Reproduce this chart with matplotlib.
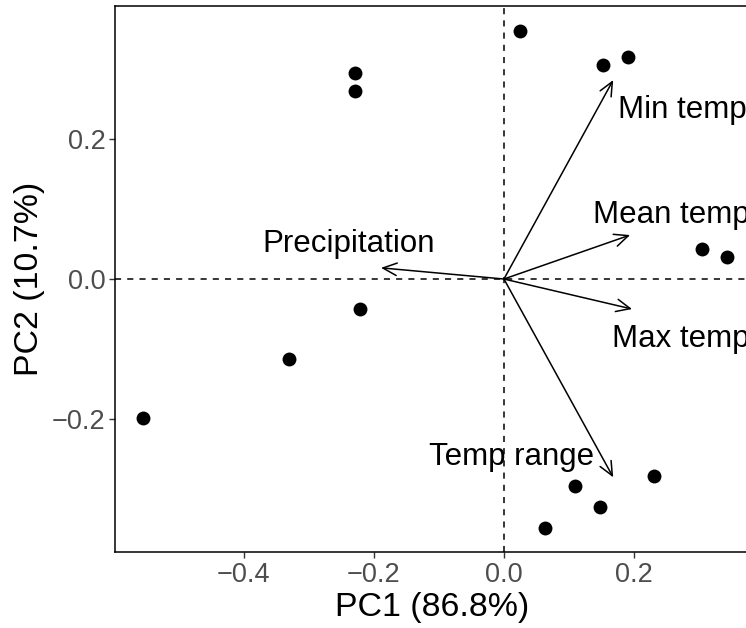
import numpy as np
import matplotlib
matplotlib.use('Agg')
from matplotlib import pyplot as plt

plt.rcParams['font.family'] = ['Liberation Sans', 'DejaVu Sans']

# PCA scores (PC1, PC2)
pc1 = [0.025, 0.152, 0.191, 0.304, 0.343, 0.231, 0.110, 0.148, 0.063,
       -0.555, -0.229, -0.229, -0.222, -0.331]
pc2 = [0.355, 0.306, 0.318, 0.043, 0.031, -0.282, -0.297, -0.326, -0.356,
       -0.199, 0.295, 0.270, -0.043, -0.115]

# loadings (arrow tips)
var_names = ['Min temp', 'Mean temp', 'Max temp', 'Temp range', 'Precipitation']
load_x = [0.168, 0.194, 0.197, 0.168, -0.189]
load_y = [0.285, 0.063, -0.043, -0.284, 0.016]
# label positions (left, baseline)
lab_x = [0.176, 0.1365, 0.1657, -0.115, -0.371]
lab_y = [0.2304, 0.0799, -0.097, -0.2667, 0.0387]

fig = plt.figure(figsize=(7.46, 6.28), dpi=100)
# panel runs slightly past the right edge of the image (cropped like the original)
ax = fig.add_axes([0.1542, 0.121, 0.85, 0.8694])

ax.axhline(0, color='black', lw=1.1, ls=(0, (4, 4)), zorder=1)
ax.axvline(0, color='black', lw=1.1, ls=(0, (4, 4)), zorder=1)

ax.scatter(pc1, pc2, s=100, color='black', zorder=3, linewidths=0)

for i in range(len(var_names)):
    ax.annotate('', xy=(load_x[i], load_y[i]), xytext=(0, 0),
                arrowprops=dict(arrowstyle='->,head_length=1.0,head_width=0.45',
                                color='black', lw=1.1, shrinkA=0, shrinkB=0),
                zorder=2)
    ax.text(lab_x[i], lab_y[i], var_names[i], fontsize=22.5, color='black',
            ha='left', va='baseline', zorder=4)

ax.set_xlim(-0.598, 0.377)
ax.set_ylim(-0.391, 0.391)
ax.set_xticks([-0.4, -0.2, 0.0, 0.2])
ax.set_xticklabels(['\u22120.4', '\u22120.2', '0.0', '0.2'])
ax.set_yticks([-0.2, 0.0, 0.2])
ax.set_yticklabels(['\u22120.2', '0.0', '0.2'])
ax.tick_params(labelsize=19.5, colors='#4D4D4D', length=4, width=1, pad=3)
ax.tick_params(axis='both', color='#333333')

for s in ax.spines.values():
    s.set_linewidth(1.1)
    s.set_color('black')

ax.set_xlabel('PC1 (86.8%)', fontsize=24.4, labelpad=3)
ax.set_ylabel('PC2 (10.7%)', fontsize=24.4, labelpad=5)

fig.savefig('out.png', dpi=100)
